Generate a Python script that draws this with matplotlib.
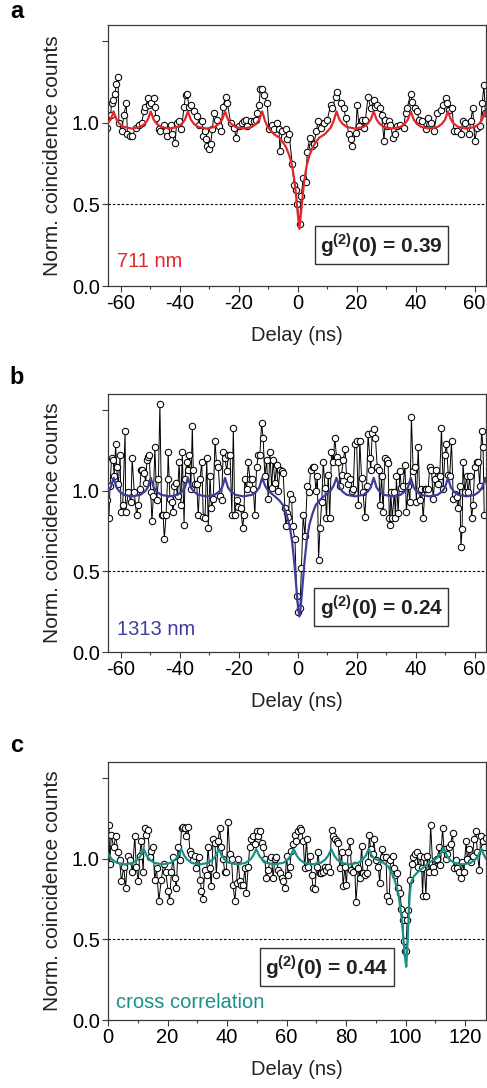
import numpy as np
import matplotlib
matplotlib.use("Agg")
import matplotlib.pyplot as plt
from matplotlib.ticker import MultipleLocator, FixedLocator, FixedFormatter

plt.rcParams['font.family'] = ['Liberation Sans', 'DejaVu Sans']
plt.rcParams['mathtext.fontset'] = 'custom'
plt.rcParams['mathtext.rm'] = 'Liberation Sans'
plt.rcParams['mathtext.bf'] = 'Liberation Sans:bold'
plt.rcParams['axes.unicode_minus'] = False

# ---------------- panel a : 711 nm ----------------
delay_a = [-64.5, -63.4, -63.1, -62.6, -61.9, -61.5, -60.9, -60.6, -59.7, -58.9,
           -58.1, -57.7, -56.9, -56.0, -54.9, -53.8, -52.9, -52.1, -51.6, -50.7,
           -50.4, -49.6, -48.7, -48.4, -48.1, -47.0, -46.5, -45.3, -44.7, -44.2,
           -43.1, -42.5, -41.6, -41.0, -40.2, -39.4, -38.5, -38.0, -37.4, -36.9,
           -36.0, -35.1, -34.0, -33.4, -32.5, -32.1, -31.5, -31.2, -30.6, -30.1,
           -29.5, -28.9, -28.4, -27.2, -26.7, -26.1, -25.3, -24.4, -23.8, -22.7,
           -21.4, -21.0, -19.9, -18.8, -18.2, -17.6, -17.1, -15.9, -14.8, -14.2,
           -13.7, -13.1, -12.6, -12.0, -11.4, -10.3, -9.7, -8.6, -8.0, -7.1,
           -6.3, -6.0, -5.2, -4.1, -3.5, -2.9, -1.8, -1.2, -0.7, -0.1,
           0.7, 1.2, 1.9, 2.7, 3.3, 4.1, 5.0, 5.5, 6.4, 6.9,
           7.8, 8.9, 10.1, 11.2, 11.7, 12.9, 13.4, 14.6, 15.7, 16.3,
           17.4, 18.0, 18.5, 19.7, 20.2, 20.8, 21.9, 22.5, 23.0, 23.9,
           24.8, 25.9, 26.4, 27.0, 27.8, 28.5, 29.3, 29.8, 30.4, 30.9,
           31.5, 32.3, 33.0, 33.8, 34.9, 36.0, 36.6, 37.2, 38.3, 38.9,
           39.8, 40.6, 41.1, 42.3, 43.4, 44.3, 45.1, 46.2, 47.3, 48.5,
           49.3, 50.2, 50.7, 51.3, 52.4, 53.0, 54.1, 55.3, 56.0, 56.9,
           58.1, 58.7, 59.4, 60.1, 60.9, 62.0, 62.6, 63.2, 63.7]
counts_a = [0.97, 1.05, 1.12, 1.14, 1.18, 1.24, 1.28, 1.00, 0.95, 1.05,
            1.12, 0.93, 0.92, 0.92, 0.97, 0.99, 1.00, 1.07, 1.10, 1.15,
            1.11, 1.12, 1.15, 1.10, 1.03, 0.96, 0.95, 0.99, 0.95, 0.92,
            0.99, 0.93, 0.875, 1.00, 1.01, 0.96, 1.10, 1.17, 1.18, 1.10,
            1.11, 1.07, 1.04, 0.99, 1.01, 0.92, 0.95, 0.90, 0.86, 0.84,
            0.87, 0.96, 1.06, 1.02, 0.98, 0.95, 1.10, 1.16, 1.12, 1.00,
            0.97, 0.91, 0.98, 1.00, 1.01, 1.02, 0.98, 1.01, 1.01, 1.02,
            1.06, 1.11, 1.21, 1.21, 1.17, 1.12, 0.96, 0.99, 0.96, 1.00,
            0.96, 0.83, 0.95, 0.96, 0.90, 0.93, 0.75, 0.62, 0.59, 0.50,
            0.38, 0.55, 0.66, 0.64, 0.82, 0.91, 0.86, 0.87, 0.95, 1.01,
            0.97, 1.00, 1.02, 1.11, 1.09, 1.16, 1.19, 1.12, 1.09, 1.03,
            0.93, 0.90, 0.86, 0.94, 1.11, 0.98, 1.02, 0.97, 1.02, 1.16,
            1.09, 1.14, 1.10, 1.11, 1.09, 1.05, 0.89, 1.02, 0.98, 1.01,
            0.99, 0.91, 0.93, 0.98, 0.99, 0.97, 1.06, 1.09, 1.18, 1.13,
            1.09, 1.07, 1.02, 1.01, 0.96, 1.03, 1.00, 0.95, 1.06, 1.08,
            1.11, 1.15, 1.12, 1.08, 1.09, 0.95, 0.95, 0.93, 1.01, 1.00,
            0.93, 1.01, 1.09, 0.89, 0.97, 0.98, 1.12, 1.23, 1.06]

# fitted curves for panels a and b share the same delay grid
fit_ab_delay = [-64.3, -63.4, -62.4, -61.4, -60.4, -58.9, -56.1, -53.3, -51.8, -50.8,
                -49.8, -48.8, -47.8, -46.3, -43.5, -40.7, -39.2, -38.2, -37.2, -36.2,
                -35.2, -33.7, -30.9, -28.1, -26.6, -25.6, -24.6, -23.6, -22.6, -21.1,
                -18.3, -15.5, -14.0, -13.0, -12.0, -11.0, -10.0, -8.0, -6.2, -4.9,
                -3.9, -2.8, -1.9, -1.1, -0.6, -0.2, 0.2, 0.6, 1.0, 1.4,
                1.8, 2.3, 3.1, 4.0, 5.1, 6.1, 7.4, 9.2, 11.2, 12.2,
                13.2, 14.2, 15.2, 16.7, 19.5, 22.3, 23.8, 24.8, 25.8, 26.8,
                27.8, 29.3, 32.1, 34.9, 36.4, 37.4, 38.4, 39.4, 40.4, 41.9,
                44.7, 47.5, 49.0, 50.0, 51.0, 52.0, 53.0, 54.5, 57.3, 60.1,
                61.6, 62.6, 63.6, 64.3]
fit_a = [1.00, 1.02, 1.07, 1.02, 0.995, 0.975, 0.965, 0.975, 0.995, 1.02,
         1.07, 1.02, 0.995, 0.975, 0.965, 0.975, 0.995, 1.02, 1.07, 1.02,
         0.995, 0.975, 0.965, 0.975, 0.995, 1.02, 1.07, 1.02, 0.995, 0.975,
         0.965, 0.975, 0.995, 1.02, 1.07, 1.01, 0.97, 0.93, 0.91, 0.88,
         0.85, 0.80, 0.74, 0.65, 0.57, 0.49, 0.42, 0.35, 0.42, 0.49,
         0.57, 0.65, 0.74, 0.80, 0.85, 0.88, 0.91, 0.93, 0.97, 1.01,
         1.07, 1.02, 0.995, 0.975, 0.965, 0.975, 0.995, 1.02, 1.07, 1.02,
         0.995, 0.975, 0.965, 0.975, 0.995, 1.02, 1.07, 1.02, 0.995, 0.975,
         0.965, 0.975, 0.995, 1.02, 1.07, 1.02, 0.995, 0.975, 0.965, 0.975,
         0.995, 1.02, 1.07, 1.03]

# ---------------- panel b : 1313 nm ----------------
delay_b = [-64.8, -64.0, -63.6, -63.1, -62.5, -62.2, -61.7, -61.4, -60.8, -60.2,
           -59.9, -59.3, -58.5, -58.3, -57.4, -56.5, -56.1, -55.4, -54.6, -54.0,
           -53.5, -53.1, -52.6, -52.0, -51.5, -51.1, -50.6, -50.3, -49.8, -49.4,
           -48.9, -48.4, -47.8, -47.2, -46.7, -46.1, -45.6, -45.2, -44.6, -44.1,
           -43.9, -43.3, -42.7, -42.2, -41.8, -41.4, -40.7, -40.2, -39.6, -39.1,
           -38.5, -38.2, -37.6, -37.1, -36.7, -36.2, -35.7, -35.4, -34.8, -34.2,
           -33.7, -33.1, -32.5, -32.0, -31.4, -30.8, -30.3, -29.7, -29.2, -28.6,
           -28.0, -27.5, -26.9, -26.3, -25.8, -25.2, -24.6, -24.0, -23.5, -22.9,
           -22.3, -21.8, -21.3, -20.7, -20.1, -19.3, -18.6, -18.2, -17.9, -17.3,
           -16.7, -16.2, -15.6, -15.0, -14.5, -13.9, -13.3, -12.8, -12.2, -11.7,
           -11.1, -10.5, -10.0, -9.4, -8.8, -8.3, -7.7, -7.1, -6.6, -6.0,
           -5.4, -4.9, -4.3, -4.0, -3.5, -3.2, -2.6, -2.0, -1.7, -0.9,
           -0.3, 0.2, 0.8, 1.3, 1.9, 2.5, 3.3, 3.9, 4.4, 5.1,
           5.6, 6.2, 6.7, 7.1, 7.6, 8.2, 8.7, 9.3, 9.8, 10.4,
           10.9, 11.5, 12.1, 12.6, 13.2, 13.8, 14.4, 14.9, 15.5, 16.1,
           16.6, 17.2, 17.7, 18.3, 18.9, 19.4, 20.0, 20.6, 21.1, 21.7,
           22.2, 22.8, 23.4, 23.9, 24.5, 24.8, 25.3, 25.9, 26.4, 27.0,
           27.6, 27.9, 28.5, 29.0, 29.6, 30.2, 30.7, 31.1, 31.3, 31.6,
           32.1, 32.8, 33.2, 33.5, 34.1, 34.7, 35.2, 35.8, 36.4, 36.9,
           37.5, 38.1, 38.6, 39.2, 39.8, 40.3, 40.9, 41.5, 42.0, 42.6,
           43.2, 43.7, 44.3, 44.8, 45.4, 46.0, 46.5, 47.1, 47.7, 48.2,
           48.8, 49.4, 49.9, 50.5, 51.1, 51.6, 52.2, 52.8, 53.3, 53.9,
           54.4, 55.0, 55.4, 55.8, 56.1, 56.7, 57.3, 57.8, 58.4, 59.0,
           59.5, 60.1, 60.7, 61.2, 61.8, 62.4, 62.9, 63.3]
counts_b = [0.94, 0.83, 1.03, 1.20, 1.19, 1.09, 1.29, 1.15, 1.04, 1.22,
            0.87, 0.91, 1.37, 0.87, 0.99, 0.93, 1.20, 0.99, 0.85, 0.91,
            1.01, 1.13, 1.13, 1.11, 1.05, 1.19, 1.21, 1.22, 0.99, 0.81,
            0.97, 1.27, 0.94, 1.07, 1.54, 0.85, 0.85, 0.70, 0.85, 1.07,
            1.24, 0.95, 0.93, 0.87, 1.03, 1.05, 0.97, 1.18, 0.91, 1.24,
            0.79, 1.07, 1.18, 1.13, 1.22, 1.01, 1.40, 1.13, 1.04, 1.04,
            0.85, 1.07, 1.18, 0.84, 0.83, 1.20, 0.77, 1.09, 0.89, 0.95,
            1.31, 1.17, 1.15, 0.97, 0.94, 1.24, 1.20, 1.12, 1.22, 1.22,
            0.85, 1.39, 0.85, 0.94, 0.90, 0.89, 0.77, 0.85, 1.07, 1.01,
            1.18, 1.07, 1.07, 1.01, 0.85, 1.15, 1.22, 1.22, 1.42, 1.33,
            1.09, 1.19, 0.95, 1.24, 1.02, 1.19, 1.05, 1.16, 1.00, 1.13,
            1.12, 1.11, 0.89, 0.78, 0.86, 0.84, 0.98, 0.95, 0.78, 0.70,
            0.35, 0.25, 0.27, 0.52, 0.85, 0.72, 1.03, 0.99, 1.13, 1.15,
            1.15, 1.00, 1.09, 0.57, 0.77, 0.93, 1.18, 1.02, 0.83, 1.10,
            0.83, 1.24, 1.18, 1.33, 1.21, 1.18, 1.03, 1.10, 1.19, 1.26,
            1.09, 1.04, 1.07, 1.00, 1.01, 1.29, 1.31, 0.91, 1.31, 1.08,
            0.99, 0.84, 1.03, 1.35, 1.20, 1.13, 1.36, 1.38, 1.33, 1.15,
            1.13, 0.91, 1.09, 0.87, 1.20, 1.19, 1.17, 0.83, 0.79, 0.99,
            0.83, 0.99, 0.83, 1.09, 0.86, 1.12, 1.02, 1.03, 1.16, 0.87,
            1.03, 0.93, 1.46, 1.12, 1.15, 0.93, 1.27, 0.94, 1.01, 0.83,
            1.01, 1.01, 1.01, 1.15, 1.13, 0.95, 1.07, 1.13, 1.04, 1.09,
            1.39, 1.01, 1.22, 1.29, 1.10, 1.09, 1.31, 0.95, 0.98, 0.96,
            0.89, 1.03, 0.65, 0.76, 1.18, 0.99, 1.09, 0.99, 1.09, 0.83,
            0.91, 1.15, 1.18, 1.18, 1.03, 1.37, 1.27, 0.85]
fit_b = [1.00, 1.02, 1.08, 1.02, 0.995, 0.975, 0.965, 0.975, 0.995, 1.02,
         1.08, 1.02, 0.995, 0.975, 0.965, 0.975, 0.995, 1.02, 1.08, 1.02,
         0.995, 0.975, 0.965, 0.975, 0.995, 1.02, 1.08, 1.02, 0.995, 0.975,
         0.965, 0.975, 0.995, 1.02, 1.08, 1.03, 1.00, 0.97, 0.94, 0.91,
         0.86, 0.79, 0.69, 0.55, 0.44, 0.35, 0.27, 0.22, 0.27, 0.35,
         0.44, 0.55, 0.69, 0.79, 0.86, 0.91, 0.94, 0.97, 1.00, 1.03,
         1.08, 1.02, 0.995, 0.975, 0.965, 0.975, 0.995, 1.02, 1.08, 1.02,
         0.995, 0.975, 0.965, 0.975, 0.995, 1.02, 1.08, 1.02, 0.995, 0.975,
         0.965, 0.975, 0.995, 1.02, 1.08, 1.02, 0.995, 0.975, 0.965, 0.975,
         0.995, 1.02, 1.08, 1.03]

# ---------------- panel c : cross correlation ----------------
delay_c = [0.3, 0.6, 1.1, 1.9, 2.6, 3.4, 3.9, 4.5, 5.3, 5.9,
           6.7, 7.5, 8.2, 9.0, 9.5, 10.2, 10.6, 11.2, 11.8, 12.3,
           12.9, 13.4, 14.0, 14.6, 15.1, 15.7, 16.3, 17.1, 17.9, 18.7,
           19.4, 20.2, 20.7, 21.3, 21.9, 22.4, 23.0, 23.5, 24.1, 24.7,
           25.2, 25.8, 26.3, 26.9, 27.5, 28.0, 28.6, 29.1, 29.7, 30.6,
           31.0, 31.4, 31.9, 32.5, 33.1, 33.6, 34.2, 34.7, 35.3, 35.9,
           36.4, 37.0, 37.5, 38.1, 38.7, 39.2, 39.8, 40.3, 40.9, 41.5,
           42.0, 42.6, 43.2, 43.7, 44.3, 44.8, 45.4, 46.0, 46.5, 47.1,
           47.6, 48.2, 48.8, 49.3, 49.9, 50.4, 51.0, 51.6, 52.1, 52.7,
           53.2, 53.8, 54.4, 54.9, 55.5, 56.0, 56.6, 57.2, 57.7, 58.3,
           58.8, 59.4, 60.0, 60.5, 61.1, 61.6, 62.2, 62.8, 63.3, 63.9,
           64.4, 65.0, 65.6, 66.1, 66.7, 67.2, 67.8, 68.4, 68.9, 69.5,
           70.1, 70.6, 71.2, 71.7, 72.3, 72.9, 73.4, 74.0, 74.5, 75.1,
           75.7, 76.2, 76.8, 77.3, 77.9, 78.5, 79.0, 79.6, 80.1, 80.7,
           81.3, 81.8, 82.4, 82.9, 83.3, 84.1, 84.6, 85.2, 85.7, 86.3,
           86.9, 87.4, 87.8, 88.2, 88.9, 89.3, 90.0, 90.8, 91.3, 91.9,
           92.5, 93.4, 93.8, 94.5, 94.9, 95.6, 96.1, 96.4, 97.0, 97.5,
           98.1, 98.6, 99.0, 99.4, 99.8, 100.1, 100.5, 100.9, 101.4, 102.0,
           102.6, 103.1, 103.7, 104.2, 104.8, 105.4, 105.7, 106.1, 106.8, 107.3,
           107.9, 108.4, 109.1, 109.5, 110.2, 110.6, 111.3, 111.7, 112.4, 112.9,
           113.5, 114.0, 114.7, 115.1, 115.8, 116.2, 116.9, 117.3, 118.0, 118.5,
           119.1, 119.6, 120.3, 120.7, 121.4, 121.8, 122.5, 123.0, 123.6, 124.1,
           124.7, 125.2, 125.9, 126.3, 127.0]
counts_c = [1.21, 0.97, 1.15, 1.07, 1.14, 1.04, 0.99, 0.86, 0.95, 0.82,
            1.02, 0.99, 0.92, 1.14, 0.95, 0.86, 1.02, 1.11, 0.92, 1.19,
            1.15, 1.18, 1.01, 1.05, 1.07, 0.87, 0.94, 0.74, 0.87, 0.97,
            0.92, 0.80, 0.74, 0.92, 1.01, 0.88, 0.82, 1.07, 0.99, 1.19,
            1.20, 1.19, 1.14, 1.20, 1.05, 1.03, 0.99, 1.02, 0.94, 1.01,
            0.87, 0.80, 0.75, 0.93, 0.90, 1.07, 0.94, 0.83, 1.12, 1.10,
            0.90, 1.11, 1.19, 1.07, 1.00, 0.92, 0.92, 1.23, 1.03, 1.00,
            0.84, 0.74, 0.85, 1.00, 0.86, 0.84, 0.84, 0.94, 0.79, 0.95,
            1.07, 1.12, 1.14, 1.09, 1.17, 1.14, 1.17, 1.10, 1.07, 1.00,
            0.88, 0.93, 0.99, 1.01, 0.88, 1.00, 1.01, 0.93, 0.91, 0.88,
            0.86, 0.82, 1.02, 0.90, 0.95, 1.05, 1.09, 1.15, 1.11, 1.17,
            1.19, 1.18, 1.11, 0.94, 1.12, 0.95, 1.02, 0.90, 0.82, 0.81,
            0.95, 1.04, 0.91, 0.91, 0.92, 0.95, 0.93, 0.95, 0.92, 1.18,
            1.14, 1.12, 1.11, 1.10, 0.94, 1.04, 0.83, 0.95, 0.84, 1.04,
            1.11, 0.93, 0.92, 0.96, 0.73, 0.94, 0.88, 1.08, 0.91, 0.90,
            0.91, 0.98, 1.15, 1.06, 1.03, 1.12, 0.99, 0.95, 0.85, 1.06,
            1.01, 1.01, 0.77, 0.74, 0.99, 1.02, 0.94, 0.90, 0.91, 0.82,
            0.79, 0.69, 0.62, 0.49, 0.43, 0.43, 0.62, 0.68, 0.87, 0.97,
            1.01, 1.03, 1.04, 0.95, 1.02, 0.94, 0.77, 1.01, 0.77, 1.02,
            0.92, 1.21, 0.95, 0.92, 0.99, 1.00, 1.07, 0.96, 1.19, 1.06,
            1.00, 1.03, 1.07, 1.09, 1.16, 0.94, 0.99, 0.94, 0.92, 0.88,
            0.98, 0.92, 1.11, 1.00, 1.06, 0.98, 1.02, 1.12, 1.17, 1.04,
            0.93, 1.14, 1.11, 1.07, 1.13]

fit_c_delay = [0.0, 0.4, 1.4, 2.9, 5.7, 8.5, 10.0, 11.0, 12.0, 13.0,
               14.0, 15.5, 18.3, 21.1, 22.6, 23.6, 24.6, 25.6, 26.6, 28.1,
               30.9, 33.7, 35.2, 36.2, 37.2, 38.2, 39.2, 40.7, 43.5, 46.3,
               47.8, 48.8, 49.8, 50.8, 51.8, 53.3, 56.1, 58.9, 60.4, 61.4,
               62.4, 63.4, 64.4, 65.9, 68.7, 71.5, 73.0, 74.0, 75.0, 76.0,
               77.0, 78.5, 81.3, 84.1, 85.6, 86.6, 87.6, 88.6, 89.6, 92.2,
               94.2, 95.7, 96.6, 97.6, 98.6, 99.2, 99.7, 100.2, 100.5, 100.8,
               101.1, 101.4, 101.8, 102.7, 104.2, 106.2, 108.2, 110.2, 111.8, 112.8,
               113.8, 114.8, 116.3, 119.1, 121.9, 123.4, 124.4, 125.4, 126.4, 127.0]
fit_c = [1.03, 1.02, 0.995, 0.975, 0.965, 0.975, 0.995, 1.02, 1.06, 1.02,
         0.995, 0.975, 0.965, 0.975, 0.995, 1.02, 1.06, 1.02, 0.995, 0.975,
         0.965, 0.975, 0.995, 1.02, 1.06, 1.02, 0.995, 0.975, 0.965, 0.975,
         0.995, 1.02, 1.06, 1.02, 0.995, 0.975, 0.965, 0.975, 0.995, 1.02,
         1.06, 1.02, 0.995, 0.975, 0.965, 0.975, 0.995, 1.02, 1.06, 1.02,
         0.995, 0.975, 0.965, 0.975, 0.995, 1.02, 1.06, 1.02, 1.00, 0.98,
         0.95, 0.90, 0.85, 0.78, 0.64, 0.52, 0.40, 0.33, 0.42, 0.55,
         0.68, 0.78, 0.85, 0.89, 0.92, 0.95, 0.98, 1.00, 1.03, 1.07,
         1.02, 0.995, 0.975, 0.965, 0.975, 0.995, 1.02, 1.06, 1.02, 1.00]

RED = '#e4262a'
BLUE = '#3d3d9c'
TEAL = '#1a9086'
SPINE = '#3a3a3a'
FS = 14.5

W, H = 487, 1088
fig = plt.figure(figsize=(W / 100, H / 100), dpi=100)


def panel(top, bottom, delay, counts, fdelay, fcounts, color, xlim, xticks,
          label, label_xy, g2, g2_xy, letter, letter_y):
    ax = fig.add_axes([108 / W, 1 - bottom / H, (486 - 108) / W, (bottom - top) / H])
    ax.axhline(0.5, color='black', lw=0.8, ls=(0, (2.2, 1.8)), zorder=1)
    ax.plot(delay, counts, color='black', lw=0.7, marker='o', ms=4.6,
            mfc='white', mec='black', mew=0.75, zorder=2)
    ax.plot(fdelay, fcounts, color=color, lw=1.6, zorder=3)
    ax.set_xlim(*xlim)
    ax.set_ylim(0, 1.6)
    ax.xaxis.set_major_locator(FixedLocator(xticks))
    ax.xaxis.set_minor_locator(MultipleLocator(10))
    ax.yaxis.set_major_locator(FixedLocator([0, 0.5, 1.0, 1.5]))
    ax.yaxis.set_major_formatter(FixedFormatter(['0.0', '0.5', '1.0', '']))
    ax.tick_params(which='both', direction='out', width=0.8, color=SPINE,
                   labelsize=FS, pad=2)
    ax.tick_params(which='major', length=4)
    ax.tick_params(which='minor', length=2.5)
    for s in ax.spines.values():
        s.set_color(SPINE)
        s.set_linewidth(0.9)
    ax.set_xlabel('Delay (ns)', fontsize=FS, labelpad=9, color='#222222')
    ax.text(label_xy[0], label_xy[1], label, color=color, fontsize=FS,
            ha='left', va='center')
    ax.text(g2_xy[0], g2_xy[1], r'g$^{\mathbf{(2)}}$(0) = ' + g2, fontsize=15,
            fontweight='bold', ha='center', va='center', color='#222222',
            bbox=dict(boxstyle='square,pad=0.25', fc='white', ec='#333333', lw=1.0),
            zorder=4)
    fig.text(53 / W, 1 - (top + bottom) / 2 / H, 'Norm. coincidence counts',
             rotation=90, ha='center', va='center', fontsize=15, color='#222222')
    fig.text(17 / W, 1 - letter_y / H, letter, fontsize=17, fontweight='bold',
             ha='center', va='center')
    return ax


ticks_ab = [-60, -40, -20, 0, 20, 40, 60]
panel(25, 286, delay_a, counts_a, fit_ab_delay, fit_a, RED, (-64.3, 63.9), ticks_ab,
      '711 nm', (-61.2, 0.15), '0.39', (28.4, 0.25), 'a', 11)
panel(394, 652, delay_b, counts_b, fit_ab_delay, fit_b, BLUE, (-64.3, 63.9), ticks_ab,
      '1313 nm', (-61.2, 0.137), '0.24', (28.4, 0.28), 'b', 378)
panel(762, 1020, delay_c, counts_c, fit_c_delay, fit_c, TEAL, (0, 127.0),
      [0, 20, 40, 60, 80, 100, 120],
      'cross correlation', (2.6, 0.11), '0.44', (73.6, 0.33), 'c', 745)

fig.savefig('out.png', dpi=100)
